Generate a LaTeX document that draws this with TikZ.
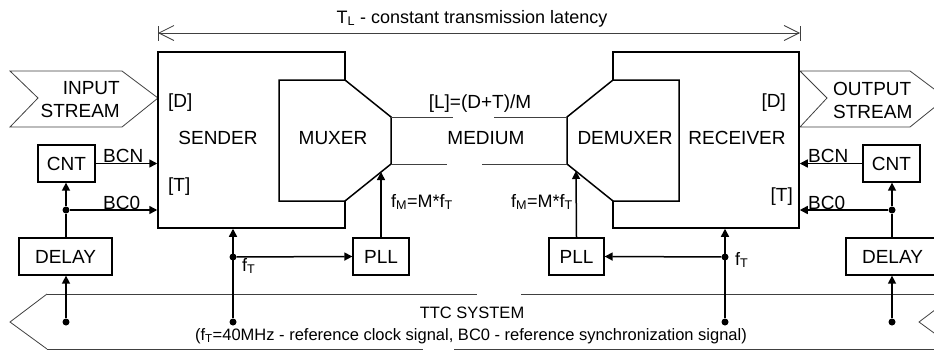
\documentclass[tikz,border=0pt]{standalone}
\usepackage{fontspec}
\setmainfont{Liberation Sans}
\usetikzlibrary{arrows.meta}
\begin{document}
\begin{tikzpicture}[x=1pt,y=-1pt,
  boxline/.style={line width=1.5pt},
  thinline/.style={line width=0.8pt, draw=black!75},
  sigline/.style={line width=1.5pt},
  sig/.style={line width=1.5pt, -{Triangle[length=8pt,width=8pt]}},
  dot/.style={circle, fill, inner sep=0pt, minimum size=7pt},
  blk/.style={draw, line width=1.3pt, inner sep=0pt, fill=white, font=\fontsize{19}{23}\selectfont},
  txt/.style={inner sep=0pt, font=\fontsize{19}{23}\selectfont},
  mid/.style={inner sep=0pt, font=\fontsize{18}{21}\selectfont},
  sml/.style={inner sep=0pt, font=\fontsize{16.5}{20}\selectfont}
]
\useasboundingbox (0,0) rectangle (934,351);
\clip (0,0) rectangle (934,351);

% dimension arrow
\coordinate (dimL) at (158,33);
\coordinate (dimR) at (800,33);
\draw[thinline, {Straight Barb[length=15pt,width=15pt]}-{Straight Barb[length=15pt,width=15pt]}] (dimL) -- (dimR);
\draw[thinline] (158,26) -- (158,41);
\draw[thinline] (800,26) -- (800,41);
\node[mid, anchor=base] (tl) at (472,23) {T\textsubscript{L} - constant transmission latency};

% streams
\draw[thinline, fill=white] (10,71) -- (122,71) -- (158,98) -- (122,127) -- (10,127) -- (38,98) -- cycle;
\node[txt, anchor=east, align=right] (instream) at (120,100) {INPUT\\STREAM};
\draw[thinline, fill=white] (800,71) -- (910,71) -- (946,98) -- (910,127) -- (800,127) -- (827,98) -- cycle;
\node[txt, anchor=west, align=left] (outstream) at (833,100) {OUTPUT\\STREAM};

% sender / receiver
\node[draw, boxline, inner sep=0pt, minimum width=187pt, minimum height=176pt] (sender) at (251.5,140) {};
\node[draw, boxline, inner sep=0pt, minimum width=186pt, minimum height=176pt] (receiver) at (706,140) {};

% muxer / demuxer
\draw[boxline, fill=white] (279,80) -- (345,80) -- (391,117) -- (391,164) -- (345,201) -- (279,201) -- cycle;
\draw[boxline, fill=white] (679,80) -- (613,80) -- (567,117) -- (567,164) -- (613,201) -- (679,201) -- cycle;
\coordinate (muxtip) at (381,172);
\coordinate (demuxtip) at (576,171);

% medium
\draw[thinline] (391,117) -- (453,117);
\draw[thinline] (494,117) -- (567,117);
\draw[thinline] (391,164) -- (447,164);
\draw[thinline] (482,164) -- (567,164);

% texts in blocks
\node[txt, anchor=base west] (dS) at (168,107) {[D]};
\node[txt, anchor=base] (senderlbl) at (218,144) {SENDER};
\node[txt, anchor=base west] (tS) at (168,191) {[T]};
\node[txt, anchor=base] (muxlbl) at (333,144) {MUXER};
\node[txt, anchor=base] (medlbl) at (486,144) {MEDIUM};
\node[txt, anchor=base] (llbl) at (480,108) {[L]=(D+T)/M};
\node[txt, anchor=base] (demuxlbl) at (625,144) {DEMUXER};
\node[txt, anchor=base] (reclbl) at (737,144) {RECEIVER};
\node[txt, anchor=base east] (dR) at (786,107) {[D]};
\node[txt, anchor=base east] (tR) at (793,201) {[T]};

% small blocks
\node[blk, minimum width=57pt, minimum height=37pt] (cntL) at (66.5,163.5) {CNT};
\node[blk, minimum width=93pt, minimum height=37pt] (delayL) at (65.5,256.5) {DELAY};
\node[blk, minimum width=56pt, minimum height=37pt] (pllL) at (381,256.5) {PLL};
\node[blk, minimum width=55pt, minimum height=37pt] (pllR) at (576.5,256.5) {PLL};
\node[blk, minimum width=57pt, minimum height=37pt] (cntR) at (891.5,163.5) {CNT};
\node[blk, minimum width=93pt, minimum height=37pt] (delayR) at (892.5,256.5) {DELAY};

% TTC band
\draw[thinline] (47,294) -- (477,294);
\draw[thinline] (521,294) -- (956,294);
\draw[thinline] (47,349) -- (423,349);
\draw[thinline] (454,349) -- (956,349);
\draw[thinline] (47,294) -- (10,322) -- (47,349);
\draw[thinline] (956,294) -- (919,322) -- (956,349);
\node[sml, anchor=base] (ttc) at (472,318) {TTC SYSTEM};
\node[sml, anchor=base] (ttcdesc) at (471,340) {(f\textsubscript{T}=40MHz - reference clock signal, BC0 - reference synchronization signal)};

% dots
\node[dot] (bcL) at (66,210) {};
\node[dot] (ttcL) at (66,322) {};
\node[dot] (fL) at (233,257) {};
\node[dot] (ttcfL) at (233,322) {};
\node[dot] (fR) at (725,257) {};
\node[dot] (ttcfR) at (725,322) {};
\node[dot] (bcR) at (892,210) {};
\node[dot] (ttcR) at (892,322) {};

% left signals
\draw[sig] (ttcL) -- (ttcL |- delayL.south);
\draw[sigline] (bcL |- delayL.north) -- (bcL);
\draw[sig] (bcL) -- (bcL |- cntL.south);
\draw[sig] (bcL) -- (bcL -| sender.west);
\draw[sig] (cntL.east) -- (cntL.east -| sender.west);
\node[txt, anchor=base west] (bcnL) at (103,162) {BCN};
\node[txt, anchor=base west] (bc0L) at (103,209) {BC0};

\draw[sig] (ttcfL) -- (ttcfL |- sender.south);
\draw[sig] (fL) -- (pllL.west);
\draw[sig] (pllL.north) -- (muxtip);
\node[mid, anchor=base west] (fTL) at (242,271) {f\textsubscript{T}};
\node[mid, anchor=base west] (fML) at (391,207) {f\textsubscript{M}=M*f\textsubscript{T}};

% right signals
\draw[sig] (ttcfR) -- (ttcfR |- receiver.south);
\draw[sig] (fR) -- (pllR.east);
\draw[sig] (pllR.north) -- (demuxtip);
\node[mid, anchor=base west] (fTR) at (735,265) {f\textsubscript{T}};
\node[mid, anchor=base east] (fMR) at (573,207) {f\textsubscript{M}=M*f\textsubscript{T}};

\draw[sig] (ttcR) -- (ttcR |- delayR.south);
\draw[sigline] (bcR |- delayR.north) -- (bcR);
\draw[sig] (bcR) -- (bcR |- cntR.south);
\draw[sig] (bcR) -- (bcR -| receiver.east);
\draw[sig] (cntR.west) -- (cntR.west -| receiver.east);
\node[txt, anchor=base west] (bcnR) at (808,162) {BCN};
\node[txt, anchor=base west] (bc0R) at (808,209) {BC0};
\end{tikzpicture}
\end{document}
